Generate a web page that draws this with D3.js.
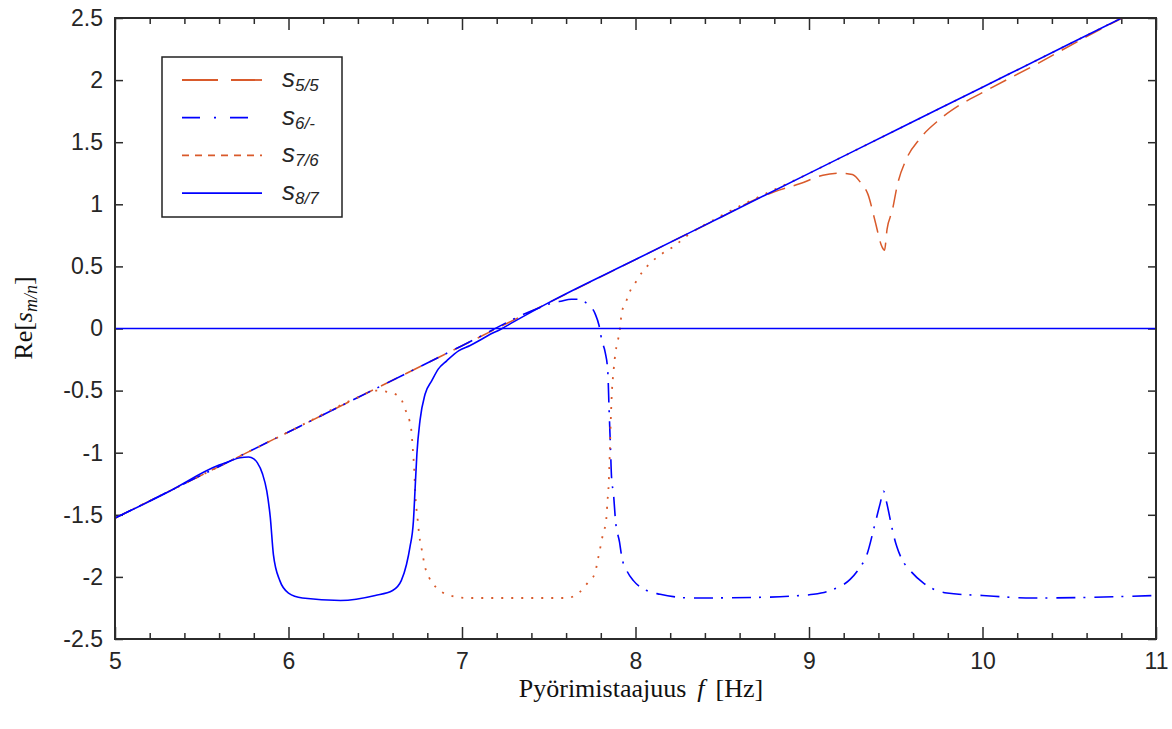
<!DOCTYPE html>
<html><head><meta charset="utf-8">
<script src="https://cdn.jsdelivr.net/npm/d3@7"></script>
<style>
  body { margin: 0; background: #fff; }
  svg { display: block; }
  .tick text { font-family: "Liberation Sans", Arial, sans-serif; font-size: 23px; fill: #262626; }
</style>
</head>
<body>
<svg id="chart"></svg>
<script>

// ---- data ----
const xTicks = [5, 6, 7, 8, 9, 10, 11];
const yTicks = [-2.5, -2, -1.5, -1, -0.5, 0, 0.5, 1, 1.5, 2, 2.5];

const legendNames = ["5/5", "6/-", "7/6", "8/7"];

// s5/5 (dashed)
const s55f = [5, 5.5, 6, 6.5, 7, 7.5, 8, 8.5, 8.7, 8.8, 8.95, 9.08, 9.18, 9.25, 9.30, 9.34, 9.38, 9.42, 9.435, 9.45, 9.48, 9.51, 9.56, 9.64, 9.75, 9.87, 10.0, 10.3, 10.6, 11];
const s55v = [-1.527, -1.18, -0.833, -0.486, -0.139, 0.208, 0.555, 0.902, 1.045, 1.10, 1.167, 1.234, 1.25, 1.24, 1.17, 1.08, 0.87, 0.66, 0.63, 0.80, 0.95, 1.16, 1.36, 1.53, 1.68, 1.80, 1.90, 2.12, 2.35, 2.637];

// s6/- (dash-dot)
const s6f = [5, 5.5, 6, 6.5, 7, 7.45, 7.52, 7.57, 7.63, 7.67, 7.72, 7.767, 7.79, 7.806, 7.825, 7.84, 7.848, 7.855, 7.862, 7.873, 7.885, 7.908, 7.921, 7.95, 7.988, 8.065, 8.142, 8.33, 8.7, 8.95, 9.026, 9.14, 9.237, 9.285, 9.334, 9.38, 9.41, 9.43, 9.449, 9.47, 9.487, 9.507, 9.536, 9.584, 9.66, 9.795, 10.0, 10.29, 11];
const s6v = [-1.527, -1.18, -0.833, -0.486, -0.139, 0.17, 0.205, 0.22, 0.235, 0.235, 0.2, 0.12, 0.024, -0.097, -0.19, -0.34, -0.66, -0.93, -1.2, -1.33, -1.55, -1.72, -1.84, -1.95, -2.03, -2.11, -2.14, -2.17, -2.165, -2.15, -2.14, -2.10, -2.02, -1.94, -1.82, -1.575, -1.41, -1.31, -1.41, -1.55, -1.66, -1.76, -1.86, -1.95, -2.05, -2.13, -2.15, -2.17, -2.15];

// s7/6 (dotted)
const s76f = [5, 5.5, 6, 6.40, 6.5, 6.6, 6.65, 6.672, 6.697, 6.708, 6.716, 6.724, 6.732, 6.743, 6.755, 6.768, 6.787, 6.812, 6.855, 6.912, 7.03, 7.6, 7.68, 7.723, 7.767, 7.78, 7.792, 7.815, 7.83, 7.838, 7.846, 7.852, 7.857, 7.864, 7.873, 7.885, 7.896, 7.908, 7.921, 7.944, 7.965, 8.0, 8.037, 8.08, 8.14, 8.22, 8.3, 8.45, 9, 9.5, 10, 10.5, 11];
const s76v = [-1.527, -1.18, -0.833, -0.555, -0.50, -0.52, -0.57, -0.65, -0.74, -0.82, -0.96, -1.12, -1.36, -1.52, -1.68, -1.78, -1.92, -2.01, -2.09, -2.14, -2.17, -2.17, -2.12, -2.05, -1.97, -1.88, -1.80, -1.64, -1.56, -1.40, -1.24, -1.0, -0.76, -0.51, -0.35, -0.19, -0.11, -0.03, 0.13, 0.21, 0.29, 0.37, 0.45, 0.52, 0.59, 0.66, 0.75, 0.874, 1.249, 1.596, 1.943, 2.29, 2.637];

// s8/7 (solid)
const s87f = [5, 5.3, 5.6, 5.65, 5.72, 5.77, 5.80, 5.82, 5.85, 5.875, 5.895, 5.913, 5.95, 6.0, 6.08, 6.3, 6.5, 6.6, 6.65, 6.68, 6.70, 6.72, 6.73, 6.74, 6.758, 6.787, 6.826, 6.864, 6.912, 6.98, 7.047, 7.10, 7.16, 7.21, 7.3, 7.5, 8, 8.5, 9, 9.5, 10, 10.5, 11];
const s87v = [-1.527, -1.32, -1.10, -1.075, -1.04, -1.035, -1.05, -1.08, -1.17, -1.31, -1.52, -1.82, -2.03, -2.13, -2.17, -2.19, -2.15, -2.11, -2.03, -1.90, -1.76, -1.55, -1.28, -1.01, -0.74, -0.53, -0.42, -0.325, -0.26, -0.18, -0.137, -0.097, -0.048, -0.016, 0.055, 0.208, 0.555, 0.902, 1.249, 1.596, 1.943, 2.29, 2.637];

// horizontal zero line
const zeroF = [5, 11];
const zeroV = [0, 0];

// ---- layout ----
let width = 1172, height = 729;
const margin = {left: 115, right: 16, top: 18, bottom: 90};
const orange = "#d95a2b", blue = "#0000ff";

let svg = d3.select("#chart")
    .attr("width", width)
    .attr("height", height);

let x = d3.scaleLinear().domain([5, 11]).range([margin.left, width - margin.right]);
let y = d3.scaleLinear().domain([-2.5, 2.5]).range([height - margin.bottom, margin.top]);

const fmt = d => String(d); // plain hyphen like the original

const minorX = d3.range(5, 11.001, 0.2).filter(v => Math.abs(v - Math.round(v)) > 0.01);

// axes (ticks inward)
const axisColor = "#2b2b2b";
function styleAxis(g) {
  g.select(".domain").remove();
  g.selectAll(".tick line").attr("stroke", axisColor).attr("stroke-width", 1.5);
}

svg.append("g").attr("transform", `translate(0,${y(-2.5)})`)
  .call(d3.axisBottom(x).tickValues(xTicks).tickFormat(fmt).tickSizeInner(-12).tickSizeOuter(0).tickPadding(14))
  .call(styleAxis);
svg.append("g").attr("transform", `translate(0,${y(-2.5)})`)
  .call(d3.axisBottom(x).tickValues(minorX).tickFormat("").tickSizeInner(-6).tickSizeOuter(0))
  .call(styleAxis);
svg.append("g").attr("transform", `translate(0,${y(2.5)})`)
  .call(d3.axisTop(x).tickValues(xTicks).tickFormat("").tickSizeInner(-12).tickSizeOuter(0))
  .call(styleAxis);
svg.append("g").attr("transform", `translate(0,${y(2.5)})`)
  .call(d3.axisTop(x).tickValues(minorX).tickFormat("").tickSizeInner(-6).tickSizeOuter(0))
  .call(styleAxis);
svg.append("g").attr("transform", `translate(${x(5)},0)`)
  .call(d3.axisLeft(y).tickValues(yTicks).tickFormat(fmt).tickSizeInner(-8).tickSizeOuter(0).tickPadding(12))
  .call(styleAxis);
svg.append("g").attr("transform", `translate(${x(11)},0)`)
  .call(d3.axisRight(y).tickValues(yTicks).tickFormat("").tickSizeInner(-8).tickSizeOuter(0))
  .call(styleAxis);

svg.selectAll(".tick text").attr("font-family", null).attr("font-size", null);

// clip
svg.append("clipPath").attr("id", "plotclip")
  .append("rect")
  .attr("x", x(5)).attr("y", y(2.5))
  .attr("width", x(11) - x(5)).attr("height", y(-2.5) - y(2.5));

const line = d3.line().x(d => x(d[0])).y(d => y(d[1])).curve(d3.curveMonotoneX);

const series = [
  {f: s55f, v: s55v, color: orange, dash: "18,9", w: 1.5},
  {f: s6f, v: s6v, color: blue, dash: "19,8,2,9", w: 1.6},
  {f: s76f, v: s76v, color: orange, dash: "2,8", w: 1.8},
  {f: s87f, v: s87v, color: blue, dash: null, w: 1.6},
  {f: zeroF, v: zeroV, color: blue, dash: null, w: 1.6}
];

let plot = svg.append("g").attr("clip-path", "url(#plotclip)");
series.forEach(s => {
  plot.append("path")
    .datum(d3.zip(s.f, s.v))
    .attr("fill", "none")
    .attr("stroke", s.color)
    .attr("stroke-width", s.w)
    .attr("stroke-dasharray", s.dash)
    .attr("d", line);
});

// box
svg.append("rect")
  .attr("x", x(5)).attr("y", y(2.5))
  .attr("width", x(11) - x(5)).attr("height", y(-2.5) - y(2.5))
  .attr("fill", "none").attr("stroke", axisColor).attr("stroke-width", 2);

// legend
const legendDash = ["36,13", "18,14,2,14", "7,6", null];
const legendColor = [orange, blue, orange, blue];
let legend = svg.append("g").attr("transform", "translate(162,57)");
legend.append("rect").attr("width", 180).attr("height", 160)
  .attr("fill", "#fff").attr("stroke", "#222").attr("stroke-width", 1.5);
legendNames.forEach((n, i) => {
  let yy = 23 + i * 37.7;
  legend.append("line").attr("x1", 20).attr("x2", 100).attr("y1", yy).attr("y2", yy)
    .attr("stroke", legendColor[i]).attr("stroke-width", 1.8)
    .attr("stroke-dasharray", legendDash[i]);
  let t = legend.append("text").attr("x", 120).attr("y", yy + 7)
    .attr("font-family", "Liberation Sans, Arial, sans-serif")
    .attr("font-style", "italic").attr("fill", "#262626");
  t.append("tspan").attr("font-size", 26).text("s");
  t.append("tspan").attr("font-size", 17).attr("dy", 4).text(n);
});

// axis labels
let xl = svg.append("text")
  .attr("x", 641).attr("y", 697)
  .attr("text-anchor", "middle")
  .attr("font-family", "Liberation Serif, Times New Roman, serif")
  .attr("font-size", 26).attr("fill", "#111");
xl.append("tspan").text("Pyörimistaajuus");
xl.append("tspan").attr("dx", 11).attr("font-style", "italic").text("f");
xl.append("tspan").attr("dx", 11).text("[Hz]");

let yl = svg.append("text")
  .attr("transform", "translate(32,318) rotate(-90)")
  .attr("text-anchor", "middle")
  .attr("font-family", "Liberation Serif, Times New Roman, serif")
  .attr("font-size", 26).attr("fill", "#111");
yl.append("tspan").text("Re[");
yl.append("tspan").attr("font-style", "italic").text("s");
yl.append("tspan").attr("font-style", "italic").attr("font-size", 18).attr("dy", 5).text("m/n");
yl.append("tspan").attr("dy", -5).text("]");

</script>
</body></html>
